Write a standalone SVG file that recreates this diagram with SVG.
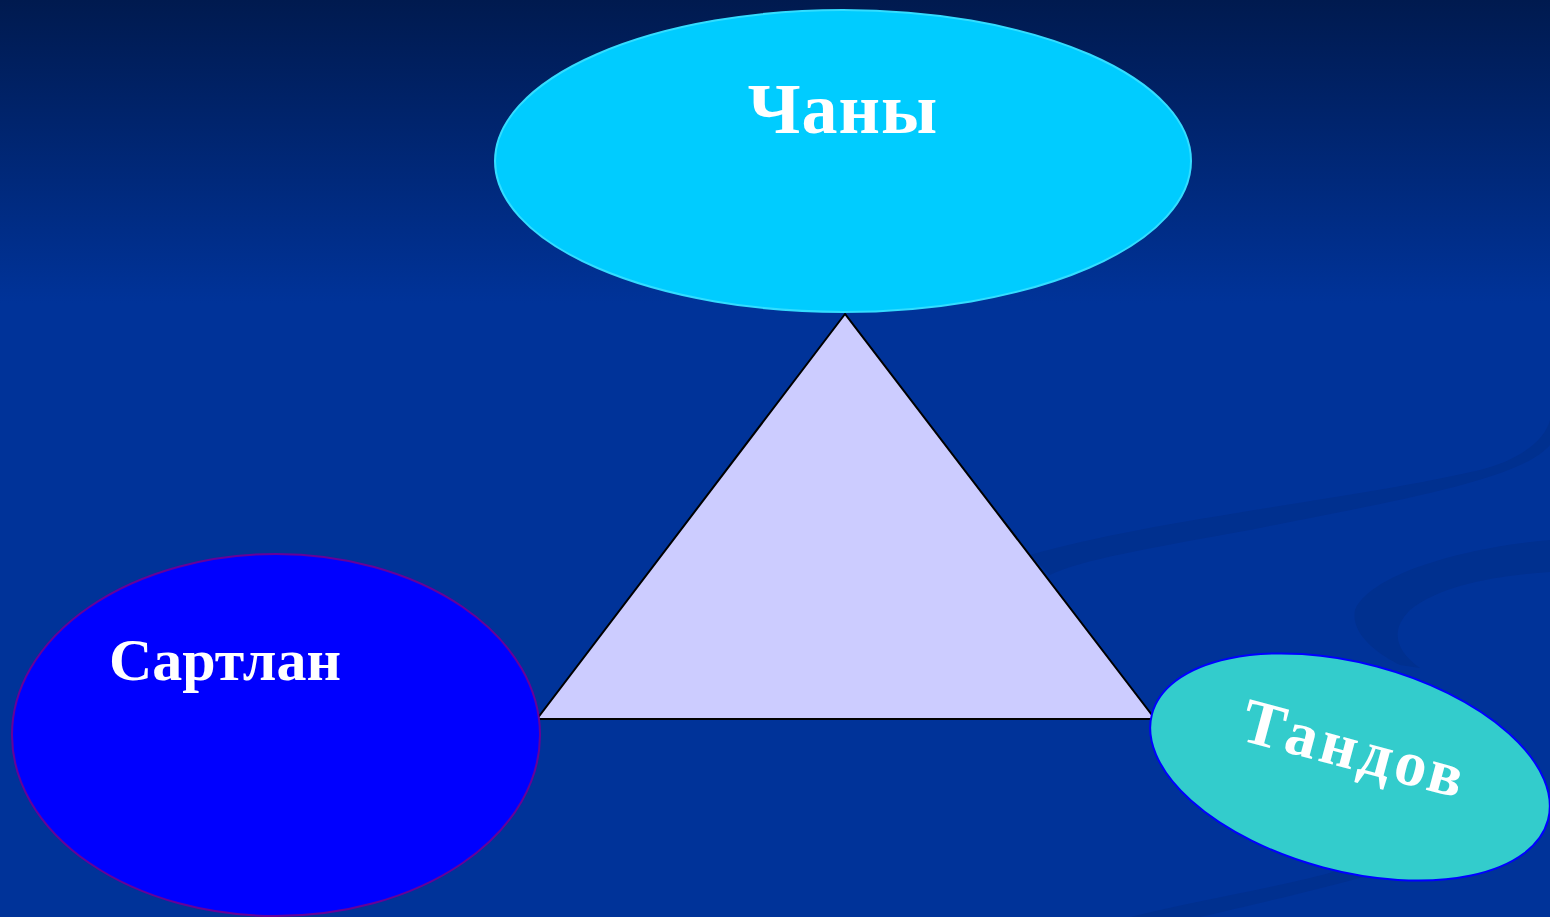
<svg xmlns="http://www.w3.org/2000/svg" width="1550" height="917" viewBox="0 0 1550 917">
<defs>
<linearGradient id="bg" x1="0" y1="0" x2="0" y2="1" gradientUnits="objectBoundingBox">
<stop offset="0" stop-color="#001a4f"/>
<stop offset="0.33" stop-color="#003399"/>
<stop offset="1" stop-color="#003399"/>
</linearGradient>
<style>
.lbl{font-family:"Liberation Serif","Times New Roman",serif;font-weight:bold;fill:#ffffff;}
.swoosh{fill:#00308f;}
</style>
</defs>
<rect x="0" y="0" width="1550" height="917" fill="url(#bg)"/>
<g id="background-swooshes">
<path class="swoosh" d="M1030,555 C1150,520 1350,500 1480,470 C1520,460 1545,440 1550,420 L1550,445 C1520,480 1400,500 1250,530 C1150,548 1080,560 1050,575 Z"/>
<path class="swoosh" d="M1550,540 C1460,548 1370,575 1355,610 C1350,635 1380,655 1400,665 L1420,668 C1395,650 1390,630 1410,610 C1440,585 1500,575 1550,572 Z"/>
<path class="swoosh" d="M1130,917 C1200,900 1290,885 1340,870 L1380,872 C1320,890 1250,905 1200,917 Z"/>
</g>
<g id="connectors">
<polygon id="triangle" points="845,314 537,719 1155,719" fill="#ccccff" stroke="#000000" stroke-width="2"/>
</g>
<g id="node-chany">
<ellipse cx="843" cy="161" rx="348" ry="151" fill="#00ccff" stroke="#33ddff" stroke-width="2"/>
<text class="lbl" x="843" y="133" font-size="72" text-anchor="middle" letter-spacing="1">Чаны</text>
</g>
<g id="node-sartlan">
<ellipse cx="276" cy="735" rx="264" ry="181" fill="#0000ff" stroke="#660099" stroke-width="2"/>
<text class="lbl" x="225" y="680" font-size="60" text-anchor="middle">Сартлан</text>
</g>
<g id="node-tandov">
<ellipse cx="1350" cy="767" rx="205" ry="104" transform="rotate(15 1350 767)" fill="#33cccc" stroke="#0000ff" stroke-width="2"/>
<text class="lbl" x="1355" y="770" font-size="64" text-anchor="middle" letter-spacing="4" transform="rotate(15 1355 750)">Тандов</text>
</g>
</svg>
